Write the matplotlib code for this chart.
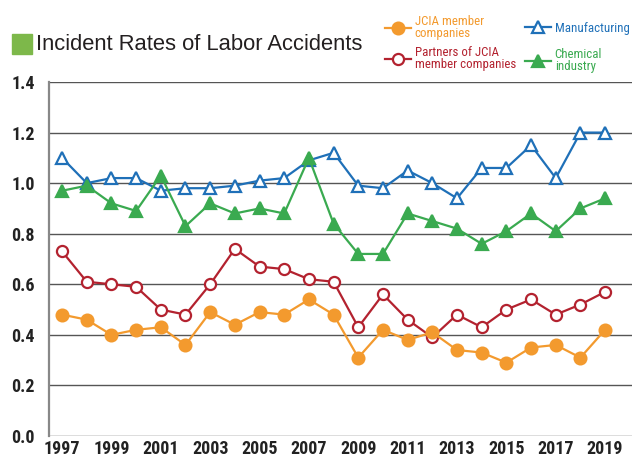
import matplotlib
matplotlib.use("Agg")
import matplotlib.pyplot as plt
from matplotlib.patches import Rectangle

years = list(range(1997, 2020))
jcia = [0.48, 0.46, 0.40, 0.42, 0.43, 0.36, 0.49, 0.44, 0.49, 0.48, 0.54, 0.48,
        0.31, 0.42, 0.38, 0.41, 0.34, 0.33, 0.29, 0.35, 0.36, 0.31, 0.42]
partners = [0.73, 0.61, 0.60, 0.59, 0.50, 0.48, 0.60, 0.74, 0.67, 0.66, 0.62, 0.61,
            0.43, 0.56, 0.46, 0.39, 0.48, 0.43, 0.50, 0.54, 0.48, 0.52, 0.57]
manufacturing = [1.10, 1.00, 1.02, 1.02, 0.97, 0.98, 0.98, 0.99, 1.01, 1.02, 1.09, 1.12,
                 0.99, 0.98, 1.05, 1.00, 0.94, 1.06, 1.06, 1.15, 1.02, 1.20, 1.20]
chemical = [0.97, 0.99, 0.92, 0.89, 1.03, 0.83, 0.92, 0.88, 0.90, 0.88, 1.10, 0.84,
            0.72, 0.72, 0.88, 0.85, 0.82, 0.76, 0.81, 0.88, 0.81, 0.90, 0.94]
yticks = [0.0, 0.2, 0.4, 0.6, 0.8, 1.0, 1.2, 1.4]
xticks = list(range(1997, 2020, 2))
labels = ["JCIA member\ncompanies", "Partners of JCIA\nmember companies",
          "Manufacturing", "Chemical\nindustry"]
title = "Incident Rates of Labor Accidents"

c_or = "#F39A2E"
c_red = "#B3222F"
c_blue = "#1F70B8"
c_green = "#3AAA50"

narrow = ["Roboto Condensed", "Archivo Narrow", "Liberation Sans Narrow", "DejaVu Sans"]

fig = plt.figure(figsize=(6.32, 4.59), dpi=100)
ax = fig.add_axes([49/632, 1-436/459, 1-49/632, (436-82)/459])

ax.set_ylim(0, 1.4)
ax.set_xlim(1996.47, 2020.09)
ax.set_yticks(yticks)
ax.set_yticklabels([f"{v:.1f}" for v in yticks])
ax.set_xticks(xticks)
ax.yaxis.grid(True, color="#555555", linewidth=1.0)
ax.set_axisbelow(True)
for s in ["top", "right", "bottom"]:
    ax.spines[s].set_visible(False)
ax.spines["left"].set_color("#888888")
ax.spines["left"].set_linewidth(1.6)
ax.tick_params(length=0)
ax.tick_params(axis="x", pad=3)
ax.tick_params(axis="y", pad=10)
for lab in ax.get_xticklabels() + ax.get_yticklabels():
    lab.set_family(narrow)
    lab.set_fontweight("bold")
    lab.set_fontsize(13)
    lab.set_color("#222222")

lw = 1.6
mew = 1.6
l3, = ax.plot(years, manufacturing, color=c_blue, lw=lw, marker="^", ms=9,
              mfc="white", mec=c_blue, mew=mew, label=labels[2], zorder=3)
l4, = ax.plot(years, chemical, color=c_green, lw=lw, marker="^", ms=9,
              mfc=c_green, mec=c_green, mew=mew, label=labels[3], zorder=4)
l2, = ax.plot(years, partners, color=c_red, lw=lw, marker="o", ms=8,
              mfc="white", mec=c_red, mew=mew, label=labels[1], zorder=5)
l1, = ax.plot(years, jcia, color=c_or, lw=lw, marker="o", ms=8.5,
              mfc=c_or, mec=c_or, mew=mew, label=labels[0], zorder=6)

common = dict(loc="upper left", frameon=False, prop={"family": narrow, "size": 9.3},
              handlelength=2.0, handletextpad=0.3, borderpad=0.0, borderaxespad=0.0)
legA = fig.legend(handles=[l1, l2], labels=labels[:2],
                  bbox_to_anchor=(385/632, 1-15/459), labelspacing=0.4, **common)
legB = fig.legend(handles=[l3, l4], labels=labels[2:],
                  bbox_to_anchor=(525/632, 1-22/459), labelspacing=1.0, **common)
for leg, cols in [(legA, [c_or, c_red]), (legB, [c_blue, c_green])]:
    for t, c in zip(leg.get_texts(), cols):
        t.set_color(c)
        t.set_linespacing(0.95)

fig.add_artist(Rectangle((12/632, 1-54/459), 20/632, 20/459,
                         transform=fig.transFigure, color="#7DB84A"))
fig.text(36/632, 1-44/459, title, fontsize=15.8, family=["Liberation Sans", "DejaVu Sans"],
         va="center", ha="left", color="#231F20")

fig.savefig("out.png", dpi=100)
